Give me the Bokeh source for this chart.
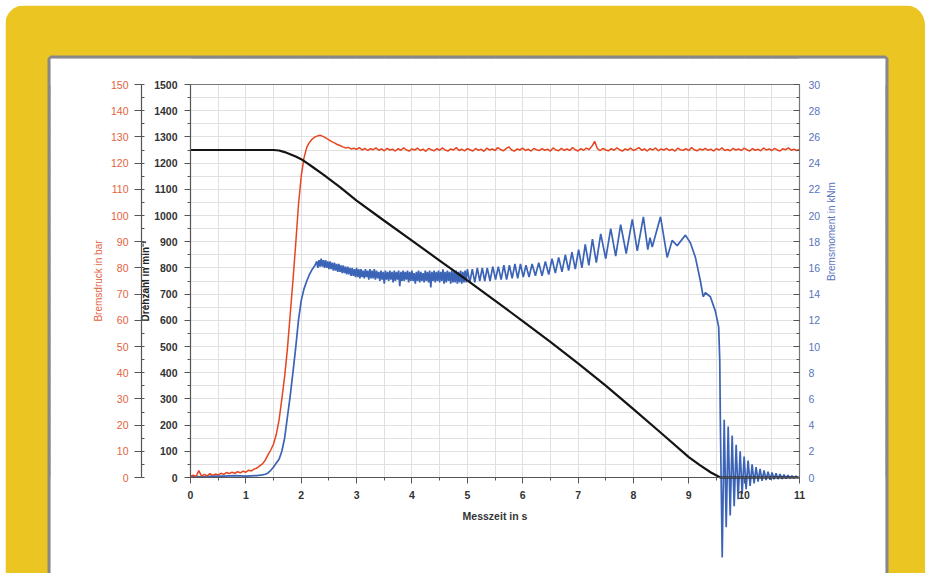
import math
from bokeh.plotting import figure
from bokeh.models import Range1d, LinearAxis, FixedTicker, Grid, BoxAnnotation, Label
from bokeh.embed import file_html
from bokeh.resources import INLINE

# ---------------- data ----------------
zeit_ticks = [0, 1, 2, 3, 4, 5, 6, 7, 8, 9, 10, 11]
zeit_minor = [i * 0.5 for i in range(23)]
drehzahl_ticks = list(range(0, 1501, 100))
drehzahl_minor = list(range(0, 1501, 50))
druck_ticks = list(range(0, 151, 10))
druck_minor = list(range(0, 151, 5))
moment_ticks = list(range(0, 31, 2))
moment_minor = list(range(0, 31, 1))

# Drehzahl (rpm) - black
drehzahl_t = [0, 1.5, 1.6, 1.7, 1.8, 1.9, 2.0, 2.1, 2.2, 2.4, 2.7, 3.0, 3.5, 4.0, 4.5, 5.0, 5.5,
              6.0, 6.5, 7.0, 7.5, 8.0, 8.5, 9.0, 9.2, 9.4, 9.57, 11.0]
drehzahl_v = [1250, 1250, 1248, 1242, 1234, 1225, 1215, 1201, 1186, 1156, 1108, 1057, 980, 904, 828,
              752, 675, 597, 518, 436, 351, 261, 170, 78, 47, 19, 0, 0]

# Bremsdruck (bar) - red, sampled every 0.05 s from 0 s
druck_anstieg = [0.3, 0.9, 0.4, 2.6, 0.5, 1.2, 0.6, 1.5, 0.8, 1.3,
                 1.0, 1.6, 1.2, 1.9, 1.5, 2.0, 1.6, 2.2, 1.8, 2.4,
                 2.0, 2.8, 2.5, 3.2, 3.6, 4.4, 5.2, 6.6, 8.6, 10.5,
                 12.8, 16.5, 22.0, 30.0, 38.5, 49.0, 62.0, 75.0, 89.0, 104.0,
                 115.0, 122.0, 126.0, 128.0, 129.2, 130.0, 130.4, 130.6, 130.1, 129.5,
                 128.9, 128.2, 127.7, 127.1, 126.7, 126.2, 125.8, 126.0, 125.4]
druck_plateau = [125.7, 125.2, 125.9, 125.0, 125.6, 124.8, 125.5, 125.1, 125.8, 124.9,
                 125.4, 124.7, 125.6, 125.0, 125.3, 124.6, 125.5, 124.9, 125.8, 125.0,
                 124.6, 125.4, 125.0, 125.7, 124.8, 125.3, 124.5, 125.6, 125.1, 124.7,
                 125.5, 124.9, 125.8, 125.0, 124.6, 125.4, 125.0, 125.9, 124.8, 125.3,
                 124.7, 125.5, 125.1, 124.6, 125.6, 124.9, 125.3, 124.5, 125.7, 125.0,
                 125.4, 124.8, 125.9, 125.2, 124.7, 125.5, 126.2, 125.0, 124.6, 125.4,
                 125.0, 125.7, 124.8, 125.3, 124.6, 125.6, 125.1, 124.8, 125.5, 124.9,
                 125.3, 124.6, 125.8, 125.0, 124.7, 125.6, 124.9, 125.4, 124.8, 125.9,
                 125.1, 124.6, 125.5, 124.9, 125.7, 125.2, 126.4, 128.3, 125.5, 124.8,
                 125.6, 125.0, 124.7, 125.5, 124.9, 125.8, 125.1, 124.6, 125.4, 125.0,
                 125.7, 124.8, 125.3, 125.9, 124.9, 125.4, 124.6, 125.5, 125.0, 125.8,
                 124.7, 125.4, 125.0, 125.6, 124.8, 125.3, 124.6, 125.7, 125.1, 124.9,
                 125.5, 124.8, 125.9, 125.1, 124.7, 125.4, 125.0, 125.6, 124.9, 125.3,
                 124.6, 125.5, 125.0, 125.8, 124.8, 125.2, 124.7, 125.6, 125.0, 125.4,
                 124.8, 125.7, 125.1, 124.6, 125.5, 124.9, 125.3, 124.7, 125.8, 125.0,
                 125.4, 124.8, 125.6, 125.0, 124.6, 125.5, 125.1, 125.8, 124.9, 125.3,
                 124.8, 125.2]
druck_dt = 0.05

# Bremsmoment (kNm) - blue
moment_anstieg_t = [0.0, 0.2, 0.4, 0.6, 0.8, 1.0, 1.2, 1.3, 1.35, 1.4, 1.45, 1.5, 1.55, 1.6, 1.65,
                    1.7, 1.75, 1.8, 1.85, 1.9, 1.95, 2.0, 2.05, 2.1, 2.15, 2.2, 2.25]
moment_anstieg_v = [0.1, 0.05, 0.1, 0.1, 0.15, 0.1, 0.15, 0.2, 0.25, 0.35, 0.55, 0.8, 1.1, 1.4, 2.0,
                    3.0, 4.6, 6.2, 8.0, 9.9, 12.0, 13.5, 14.4, 15.0, 15.5, 15.9, 16.2]
# dense oscillation band, one value every 0.02 s from 2.28 s
moment_band_t0 = 2.28
moment_band_dt = 0.02
moment_band_v = [16.5, 16.0, 16.6, 16.1, 16.7, 16.1, 16.6, 16.0, 16.6, 16.0,
                 16.5, 15.9, 16.5, 15.9, 16.4, 15.8, 16.4, 15.8, 16.3, 15.7,
                 16.3, 15.7, 16.2, 15.6, 16.2, 15.6, 16.1, 15.5, 16.1, 15.5,
                 16.0, 15.4, 16.0, 15.4, 15.9, 15.3, 16.0, 15.3, 15.9, 15.2,
                 15.9, 15.3, 15.8, 15.2, 15.9, 15.3, 15.8, 15.1, 15.9, 15.2,
                 15.8, 15.2, 15.9, 15.1, 15.8, 15.2, 15.7, 15.0, 15.8, 15.1,
                 15.7, 14.8, 15.8, 15.1, 15.7, 15.0, 15.8, 15.1, 15.7, 14.9,
                 15.8, 15.0, 15.7, 15.1, 15.8, 14.6, 15.7, 15.0, 15.8, 15.0,
                 15.7, 15.1, 15.8, 14.9, 15.7, 15.0, 15.8, 15.0, 15.6, 14.8,
                 15.7, 15.0, 15.8, 14.9, 15.7, 15.0, 15.6, 14.9, 15.8, 15.0,
                 15.7, 14.9, 15.8, 14.5, 15.7, 15.0, 15.8, 14.9, 15.7, 15.0,
                 15.8, 14.9, 15.7, 15.0, 15.9, 14.8, 15.7, 14.9, 15.8, 15.0,
                 15.7, 14.8, 15.8, 14.9, 15.7, 14.9, 15.8, 14.8, 15.7, 14.9,
                 15.8, 14.8, 15.7, 14.9, 15.8, 14.9]
moment_spaet_t = [5.00, 5.045, 5.09, 5.135, 5.18, 5.225, 5.27, 5.315, 5.36, 5.41,
                  5.46, 5.51, 5.56, 5.61, 5.66, 5.71, 5.76, 5.81, 5.86, 5.91,
                  5.96, 6.01, 6.06, 6.115, 6.17, 6.23, 6.29, 6.35, 6.41, 6.47,
                  6.53, 6.59, 6.65, 6.71, 6.77, 6.83, 6.89, 6.95, 7.01, 7.07,
                  7.13, 7.195, 7.26, 7.33, 7.41, 7.50, 7.59, 7.68, 7.77, 7.87,
                  7.98, 8.07, 8.18, 8.26, 8.30, 8.34, 8.49, 8.61, 8.70, 8.79,
                  8.94, 9.03, 9.12, 9.21, 9.26, 9.30, 9.39, 9.48, 9.54, 9.56, 9.57]
moment_spaet_v = [15.9, 14.9, 15.9, 14.9, 16.0, 15.0, 16.0, 15.0, 16.0, 15.0,
                  16.1, 15.1, 16.1, 15.1, 16.2, 15.1, 16.2, 15.2, 16.3, 15.2,
                  16.3, 15.3, 16.2, 15.3, 16.3, 15.4, 16.4, 15.4, 16.5, 15.5,
                  16.7, 15.6, 16.8, 15.7, 17.0, 15.8, 17.2, 15.9, 17.4, 16.0,
                  17.8, 16.2, 18.2, 16.4, 18.6, 16.7, 19.0, 16.9, 19.3, 17.1,
                  19.7, 17.3, 19.9, 17.4, 18.3, 17.6, 19.9, 16.8, 18.1, 17.7,
                  18.5, 17.9, 16.8, 15.0, 13.8, 14.1, 13.8, 12.7, 11.5, 8.9, 4.4]
# decaying ringing after standstill, one value every 0.036 s from 9.604 s
moment_ring_t0 = 9.604
moment_ring_dt = 0.036
moment_ring_v = [-6.1, 4.4, -3.8, 3.9, -2.9, 3.2, -2.2, 2.5, -1.65, 2.0,
                 -1.25, 1.6, -0.9, 1.3, -0.65, 1.0, -0.45, 0.8, -0.32, 0.65,
                 -0.25, 0.55, -0.2, 0.45, -0.17, 0.38, -0.14, 0.32, -0.12, 0.27,
                 -0.1, 0.22, -0.08, 0.18, -0.06, 0.14, -0.05, 0.1, -0.03]

# ---------------- assemble series ----------------
druck_v = druck_anstieg + druck_plateau
druck_t = [round(i * druck_dt, 3) for i in range(len(druck_v))]
moment_t = (moment_anstieg_t
            + [round(moment_band_t0 + i * moment_band_dt, 3) for i in range(len(moment_band_v))]
            + moment_spaet_t
            + [round(moment_ring_t0 + i * moment_ring_dt, 3) for i in range(len(moment_ring_v))])
moment_v = moment_anstieg_v + moment_band_v + moment_spaet_v + moment_ring_v

# ---------------- styling / geometry ----------------
YELLOW = "#EBC623"
FRAME_GRAY = "#88888A"
RED = "#E6461F"
RED_TXT = "#E4623E"
BLUE = "#3B63B6"
BLUE_TXT = "#5874BE"
BLACK = "#141414"
AXIS = "#555555"
TXT = "#333333"
GRID = "#E0E0E0"
FONT = "Liberation Sans"

OX, OY = 5, 5               # canvas offset on the page (CSS margin)
W, H = 920, 568
FL, FR, FT, FB = 50, 885, 58, 573   # frame edges in page px
X0, X11 = 190, 799          # page px of t=0 and t=11
Y0, Y1500 = 477, 84         # page px of rpm=0 and rpm=1500
pxs = (X11 - X0) / 11.0
pxr = (Y0 - Y1500) / 1500.0
x_start = (FL - X0) / pxs
x_end = (FR - X0) / pxs
y_start = -(FB - Y0) / pxr
y_end = (Y0 - FT) / pxr

p = figure(width=W, height=H, output_backend="svg", toolbar_location=None, tools="",
           title=None, x_axis_type=None, y_axis_type=None,
           x_range=Range1d(x_start, x_end), y_range=Range1d(y_start, y_end),
           min_border_left=FL - OX, min_border_right=OX + W - FR,
           min_border_top=FT - OY, min_border_bottom=0)
p.extra_y_ranges = {"druck": Range1d(y_start / 10.0, y_end / 10.0),
                    "moment": Range1d(y_start / 50.0, y_end / 50.0)}
p.background_fill_color = "white"
p.border_fill_color = YELLOW
p.outline_line_color = FRAME_GRAY
p.outline_line_width = 6
p.styles = {"border-radius": "20px 20px 0 0", "overflow": "hidden",
            "margin-left": f"{OX}px", "margin-top": f"{OY}px"}

# grids
vgrid = Grid(dimension=0, ticker=FixedTicker(ticks=zeit_minor), grid_line_color=GRID, grid_line_width=1)
hgrid = Grid(dimension=1, ticker=FixedTicker(ticks=drehzahl_minor), grid_line_color=GRID, grid_line_width=1)
p.add_layout(vgrid)
p.add_layout(hgrid)
for kw in (dict(right=0), dict(left=11), dict(top=0), dict(bottom=1500)):
    p.add_layout(BoxAnnotation(fill_color="white", fill_alpha=1, line_alpha=0, level="underlay", **kw))

# lines
p.line(moment_t, moment_v, y_range_name="moment", line_color=BLUE, line_width=1.7)
p.line(druck_t, druck_v, y_range_name="druck", line_color=RED, line_width=1.5)
p.line(drehzahl_t, drehzahl_v, line_color=BLACK, line_width=2.2)


def style_axis(ax, color_txt, weight, size="10.5px"):
    ax.axis_line_color = AXIS
    ax.axis_line_width = 1.2
    ax.major_tick_line_color = AXIS
    ax.minor_tick_line_color = AXIS
    ax.major_label_text_font = FONT
    ax.major_label_text_font_size = size
    ax.major_label_text_color = color_txt
    ax.major_label_text_font_style = weight
    ax.axis_label_text_font = FONT
    ax.axis_label_text_font_size = "10px"


# x axis at rpm = 0
ax_x = LinearAxis(fixed_location=0, bounds=(0, 11),
                  ticker=FixedTicker(ticks=zeit_ticks, minor_ticks=zeit_minor),
                  axis_label="Messzeit in s")
style_axis(ax_x, TXT, "bold")
ax_x.major_tick_out = 6
ax_x.major_tick_in = 0
ax_x.minor_tick_out = 3
ax_x.minor_tick_in = 0
ax_x.major_label_standoff = 7
ax_x.axis_label_standoff = 8
ax_x.axis_label_text_color = TXT
ax_x.axis_label_text_font_style = "bold"
ax_x.axis_label_text_font_size = "10.5px"
p.add_layout(ax_x, "below")

# top border line
ax_top = LinearAxis(fixed_location=1500, bounds=(0, 11), ticker=FixedTicker(ticks=[]))
ax_top.axis_line_color = "#777777"
ax_top.major_tick_out = 0
ax_top.minor_tick_out = 0
ax_top.major_label_text_alpha = 0
p.add_layout(ax_top, "above")

# Drehzahl axis (left, at t = 0)
ax_n = LinearAxis(fixed_location=0, bounds=(0, 1500),
                  ticker=FixedTicker(ticks=drehzahl_ticks, minor_ticks=drehzahl_minor),
                  axis_label="Drehzahl in min\u207b\u00b9")
style_axis(ax_n, TXT, "bold")
ax_n.major_tick_out = 6
ax_n.major_tick_in = 0
ax_n.minor_tick_out = 3
ax_n.minor_tick_in = 0
ax_n.major_label_standoff = 7
ax_n.axis_label_standoff = 0
ax_n.axis_label_text_color = "#222222"
ax_n.axis_label_text_font_style = "bold"
p.add_layout(ax_n, "left")

# Bremsdruck axis (left, further out)
ax_p = LinearAxis(fixed_location=(141 - X0) / pxs, bounds=(0, 150), y_range_name="druck",
                  ticker=FixedTicker(ticks=druck_ticks, minor_ticks=druck_minor),
                  axis_label="Bremsdruck in bar")
style_axis(ax_p, RED_TXT, "normal")
ax_p.major_tick_out = 7
ax_p.major_tick_in = 0
ax_p.minor_tick_out = 0
ax_p.minor_tick_in = 3
ax_p.major_label_standoff = 6
ax_p.axis_label_standoff = 4
ax_p.axis_label_text_color = RED_TXT
ax_p.axis_label_text_font_style = "normal"
p.add_layout(ax_p, "left")

# Bremsmoment axis (right, at t = 11)
ax_m = LinearAxis(fixed_location=11, bounds=(0, 30), y_range_name="moment",
                  ticker=FixedTicker(ticks=moment_ticks, minor_ticks=moment_minor))
style_axis(ax_m, BLUE_TXT, "normal")
ax_m.axis_line_color = "#777777"
ax_m.major_tick_out = 0
ax_m.major_tick_in = 6
ax_m.minor_tick_out = 0
ax_m.minor_tick_in = 3
ax_m.major_label_standoff = 9
p.add_layout(ax_m, "right")

if "axis_label_orientation" in LinearAxis.properties():
    ax_m.axis_label = "Bremsmoment in kNm"
    ax_m.axis_label_orientation = math.pi / 2
    ax_m.axis_label_standoff = 8
    ax_m.axis_label_text_color = BLUE_TXT
    ax_m.axis_label_text_font_style = "normal"
else:
    p.add_layout(Label(x=(832 - X0) / pxs, y=(Y0 - 287) / pxr, text="Bremsmoment in kNm",
                       angle=math.pi / 2, text_align="center", text_baseline="middle",
                       text_font=FONT, text_font_size="10px", text_color=BLUE_TXT))

open("out.html", "w").write(file_html(p, INLINE))
